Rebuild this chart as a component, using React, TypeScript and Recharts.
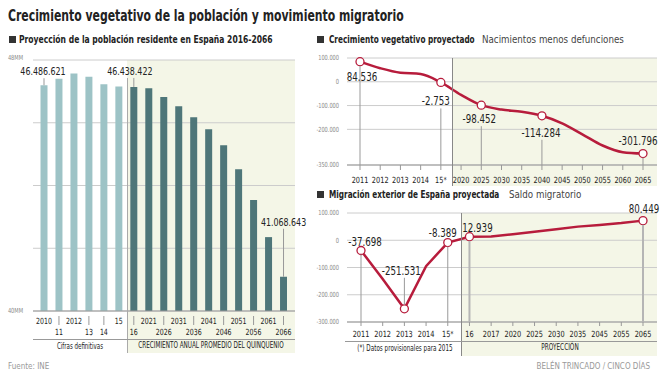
import React from 'react'
import { BarChart, Bar, Cell, XAxis, YAxis, CartesianGrid, LabelList, LineChart, Line } from 'recharts'

const FONT = '"Liberation Sans Narrow", "Arial Narrow", "DejaVu Sans Condensed", sans-serif'
const RED = '#b71c3c'
const LIGHT = '#9dc3c6'
const DARK = '#4e7679'
const CREAM = '#f4f6e7'
const GRID = '#cccccc'
const INK = '#222'

// Población residente (millones)
const popYears = ['2010', '11', '2012', '13', '14', '15', '16', '2021', '2026', '2031', '2036', '2041', '2046', '2051', '2056', '2061', '2066']
const popValues = [46.487, 46.667, 46.818, 46.728, 46.512, 46.45, 46.438, 46.4, 46.15, 45.89, 45.58, 45.24, 44.79, 44.11, 43.24, 42.19, 41.069]
const popLabels = ['46.486.621', '', '', '', '', '', '46.438.422', '', '', '', '', '', '', '', '', '', '41.068.643']
const popLowerRow = ['11', '13', '14', '16', '2026', '2036', '2046', '2056', '2066']
const definitiveCount = 6
const popTicks = [40.1, 41.875, 43.65, 45.425, 47.2]
const popTickLabels = ['40MM', '', '', '', '48MM']

// Crecimiento vegetativo
const vegYears = ['2011', '2012', '2013', '2014', '15*', '2020', '2025', '2030', '2035', '2040', '2045', '2050', '2055', '2060', '2065']
const vegValues = [84536, 57000, 38000, 33000, -2753, -55000, -98452, -117000, -126000, -143000, -175000, -221000, -268000, -296000, -301796]
const vegLabels = ['84.536', '', '', '', '-2.753', '', '-98.452', '', '', '-114.284', '', '', '', '', '-301.796']
const vegTicks = [100000, 0, -100000, -200000, -300000, -350000]

// Saldo migratorio
const migYears = ['2011', '2012', '2013', '2014', '15*', '16', '2017', '2020', '2025', '2030', '2035', '2045', '2055', '2065']
const migValues = [-37698, -142000, -251531, -95000, -8389, 12939, 14000, 22000, 31000, 40000, 50000, 56000, 63000, 72000]
const migLabels = ['-37.698', '', '-251.531', '', '-8.389', '12.939', '', '', '', '', '', '', '', '80.449']
const migTicks = [100000, 0, -100000, -200000, -300000]

const popData = popYears.map((year, i) => ({ year, value: popValues[i] }))
const vegData = vegYears.map((year, i) => ({ year, value: vegValues[i] }))
const migData = migYears.map((year, i) => ({ year, value: migValues[i] }))

const fmt = (v: number) => (v < 0 ? '-' : '') + Math.abs(v).toString().replace(/\B(?=(\d{3})+(?!\d))/g, '.')

// label placement: [dx, dy of baseline, leader start, leader end (null = plot bottom), thick]
const POP_POS: Record<number, [number, number]> = { 0: [-1, 10], 6: [-4, 12], 16: [0, 51] }
const VEG_POS: Record<number, [number, number, number, number | null, boolean]> = {
  0: [2, 19, 4, null, false],
  4: [-5, 23, 26, null, false],
  6: [-2, 18, 21, null, false],
  9: [-1, 21, 24, null, false],
  14: [-5, -9, 4, null, false],
}
const MIG_POS: Record<number, [number, number, number, number | null, boolean]> = {
  0: [4, -5, 4, null, false],
  2: [-3, -34, -31, -4, false],
  4: [-5, -6, 4, null, false],
  5: [8, -5, 4, null, true],
  13: [1, -8, 4, null, true],
}

// condensed svg text
const SText = ({ x, y, s, size, fill = INK, anchor = 'middle', dy, weight, children }: any) => (
  <text
    transform={`translate(${x},${y}) scale(${s},1)`}
    textAnchor={anchor}
    dy={dy}
    fontSize={size}
    fill={fill}
    fontWeight={weight}
    fontFamily={FONT}
  >
    {children}
  </text>
)

const PopTick = (props: any) => {
  const { x, y, payload } = props
  const lower = popLowerRow.includes(payload.value)
  return (
    <g>
      {lower && <line x1={x} x2={x} y1={y + 5} y2={y + 14} stroke="#999" />}
      <SText x={x} y={lower ? y + 24 : y + 13} s={0.82} size={8.5}>
        {payload.value}
      </SText>
    </g>
  )
}

const PopYTick = (props: any) => {
  const { x, y, index } = props
  return (
    <SText x={x} y={index === popTicks.length - 1 ? y - 2 : y} s={0.8} size={7} fill="#888" anchor="end" dy="0.35em">
      {popTickLabels[index]}
    </SText>
  )
}

const NumYTick = (props: any) => {
  const { x, y, payload } = props
  return (
    <SText x={x} y={y} s={0.8} size={7} fill="#888" anchor="end" dy="0.35em">
      {fmt(payload.value)}
    </SText>
  )
}

const YearTick = (props: any) => {
  const { x, y, payload } = props
  return (
    <SText x={x} y={y} s={0.86} size={8.5} dy="0.71em">
      {payload.value}
    </SText>
  )
}

const PopLabel = (props: any) => {
  const { x, y, width, index } = props
  const text = popLabels[index]
  if (!text) return null
  const [dx, lift] = POP_POS[index] || [0, 10]
  const cx = x + width / 2
  return (
    <g>
      <line x1={cx} x2={cx} y1={y - lift + 3} y2={y} stroke="#999" />
      <SText x={cx + dx} y={y - lift} s={0.8} size={11}>
        {text}
      </SText>
    </g>
  )
}

const makeDot = (labels: string[]) => (props: any) => {
  const { cx, cy, index } = props
  if (!labels[index]) return <g key={`d${index}`} />
  return <circle key={`d${index}`} cx={cx} cy={cy} r={4} fill="#fff" stroke={RED} strokeWidth={1.3} />
}

const makeLabel = (labels: string[], pos: Record<number, any>, bottom: number) => (props: any) => {
  const { x, y, index } = props
  const text = labels[index]
  if (!text) return null
  const [dx, dy, from, to, thick] = pos[index] || [0, -8, 4, null, false]
  return (
    <g>
      <line
        x1={x}
        x2={x}
        y1={y + from}
        y2={to === null ? bottom : y + to}
        stroke={thick ? '#b5b5b5' : '#999'}
        strokeWidth={thick ? 2 : 1}
      />
      <SText x={x + dx} y={y + dy} s={0.84} size={11.5}>
        {text}
      </SText>
    </g>
  )
}

const abs = (left: number, top: number, extra: React.CSSProperties = {}): React.CSSProperties => ({
  position: 'absolute',
  left,
  top,
  ...extra,
})

// html text squeezed horizontally; align 'left' starts at x, 'center' centres on x
const Txt = ({ x, y, s, size, weight, color = INK, align = 'left', children }: any) => (
  <div
    style={abs(x, y, {
      fontSize: size,
      fontWeight: weight,
      color,
      whiteSpace: 'nowrap',
      lineHeight: 1.2,
      transform: align === 'center' ? `translateX(-50%) scaleX(${s})` : `scaleX(${s})`,
      transformOrigin: align === 'center' ? 'center' : 'left',
    })}
  >
    {children}
  </div>
)

const Square = ({ x, y }: { x: number; y: number }) => (
  <div style={abs(x, y, { width: 7, height: 7, background: '#333' })} />
)

export default function App() {
  return (
    <div
      style={{ position: 'fixed', left: 0, top: 0, width: 664, height: 380, background: '#fff', fontFamily: FONT, overflow: 'hidden' }}
    >
      <Txt x={8} y={6} s={0.755} size={16} weight="bold">
        Crecimiento vegetativo de la población y movimiento migratorio
      </Txt>

      <Square x={9} y={36} />
      <Txt x={19} y={33} s={0.77} size={11} weight="bold">
        Proyección de la población residente en España 2016-2066
      </Txt>
      <Square x={317} y={36} />
      <Txt x={329} y={33} s={0.74} size={11} weight="bold">
        Crecimiento vegetativo proyectado
      </Txt>
      <Txt x={482} y={33} s={0.88} size={11} color="#444">
        Nacimientos menos defunciones
      </Txt>
      <Square x={317} y={191} />
      <Txt x={329} y={188} s={0.74} size={11} weight="bold">
        Migración exterior de España proyectada
      </Txt>
      <Txt x={509} y={188} s={0.88} size={11} color="#444">
        Saldo migratorio
      </Txt>

      {/* backgrounds */}
      <div style={abs(127, 60, { width: 168, height: 293, background: CREAM })} />
      <div style={abs(452, 58, { width: 205, height: 128, background: CREAM })} />
      <div style={abs(461, 213, { width: 196, height: 143, background: CREAM })} />

      {/* left chart */}
      <div style={abs(0, 0)}>
        <BarChart width={310} height={345} data={popData} margin={{ top: 60, right: 15, left: 8, bottom: 6 }}>
          <CartesianGrid vertical={false} stroke={GRID} />
          <XAxis
            dataKey="year"
            interval={0}
            tickLine={false}
            tickSize={0}
            tickMargin={0}
            height={28}
            padding={{ left: 3.5, right: 4 }}
            axisLine={{ stroke: '#999' }}
            tick={<PopTick />}
          />
          <YAxis
            width={25}
            domain={[40.1, 47.2]}
            ticks={popTicks}
            axisLine={false}
            tickLine={false}
            tickSize={0}
            tickMargin={10}
            tick={<PopYTick />}
          />
          <Bar dataKey="value" barSize={7} isAnimationActive={false}>
            {popData.map((_, i) => (
              <Cell key={`c${i}`} fill={i < definitiveCount ? LIGHT : DARK} />
            ))}
            <LabelList dataKey="value" content={<PopLabel />} />
          </Bar>
        </BarChart>
      </div>
      <div style={abs(126.5, 78, { width: 1, height: 275, background: '#aaa' })} />
      <div style={abs(33, 339, { width: 262, height: 1, background: '#999' })} />
      <Txt x={80} y={341} s={0.72} size={8.5} align="center">
        Cifras definitivas
      </Txt>
      <Txt x={211} y={341} s={0.79} size={8} align="center">
        CRECIMIENTO ANUAL PROMEDIO DEL QUINQUENIO
      </Txt>

      {/* top right chart */}
      <div style={abs(310, 45)}>
        <LineChart width={354} height={145} data={vegData} margin={{ top: 13, right: 7, left: 0, bottom: 0 }}>
          <CartesianGrid vertical={false} stroke={GRID} />
          <XAxis
            dataKey="year"
            interval={0}
            height={25}
            tickSize={5}
            tickMargin={7}
            padding={{ left: 13, right: 14 }}
            axisLine={{ stroke: '#999' }}
            tickLine={{ stroke: '#999' }}
            tick={<YearTick />}
          />
          <YAxis
            width={37}
            domain={[-350000, 100000]}
            ticks={vegTicks}
            axisLine={false}
            tickLine={false}
            tickSize={0}
            tickMargin={8}
            tick={<NumYTick />}
          />
          <Line
            type="monotone"
            dataKey="value"
            stroke={RED}
            strokeWidth={2.5}
            dot={makeDot(vegLabels)}
            activeDot={false}
            isAnimationActive={false}
          >
            <LabelList dataKey="value" content={makeLabel(vegLabels, VEG_POS, 120)} />
          </Line>
        </LineChart>
      </div>
      <div style={abs(451.5, 58, { width: 1, height: 128, background: '#888' })} />

      {/* bottom right chart */}
      <div style={abs(310, 200)}>
        <LineChart width={354} height={140} data={migData} margin={{ top: 13, right: 7, left: 0, bottom: 0 }}>
          <CartesianGrid vertical={false} stroke={GRID} />
          <XAxis
            dataKey="year"
            interval={0}
            height={18}
            tickSize={4}
            tickMargin={5}
            padding={{ left: 14, right: 14 }}
            axisLine={{ stroke: '#999' }}
            tickLine={{ stroke: '#999' }}
            tick={<YearTick />}
          />
          <YAxis
            width={37}
            domain={[-300000, 100000]}
            ticks={migTicks}
            axisLine={false}
            tickLine={false}
            tickSize={0}
            tickMargin={8}
            tick={<NumYTick />}
          />
          <Line
            type="linear"
            dataKey="value"
            stroke={RED}
            strokeWidth={2.5}
            dot={makeDot(migLabels)}
            activeDot={false}
            isAnimationActive={false}
          >
            <LabelList dataKey="value" content={makeLabel(migLabels, MIG_POS, 122)} />
          </Line>
        </LineChart>
      </div>
      <div style={abs(461, 213, { width: 1, height: 143, background: '#888' })} />
      <div style={abs(345, 341, { width: 312, height: 1, background: '#999' })} />
      <Txt x={405} y={343} s={0.74} size={8.5} align="center">
        (*) Datos provisionales para 2015
      </Txt>
      <Txt x={560} y={343} s={0.8} size={8} align="center">
        PROYECCIÓN
      </Txt>

      <Txt x={8} y={362} s={1} size={8} color="#999">
        Fuente: INE
      </Txt>
      <div style={abs(414, 362, { width: 236, textAlign: 'right', fontSize: 8, color: '#999' })}>
        BELÉN TRINCADO / CINCO DÍAS
      </div>
    </div>
  )
}
